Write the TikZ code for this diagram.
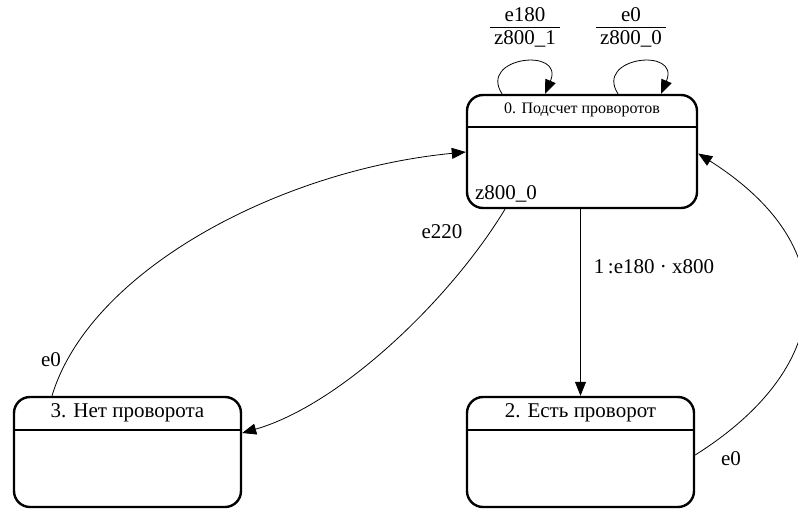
\documentclass[tikz,border=0pt]{standalone}
\usepackage{fontspec}
\setmainfont{Liberation Serif}
\usetikzlibrary{arrows.meta}
\begin{document}
\begin{tikzpicture}[x=1pt,y=-1pt,
  statebox/.style={draw,line width=2.4pt,rounded corners=16pt,inner sep=0pt},
  hdr/.style={font=\fontsize{21}{24}\selectfont,inner sep=0pt},
  lbl/.style={font=\fontsize{21}{24}\selectfont,inner sep=0pt},
  edge/.style={line width=0.8pt,-{Triangle[length=14pt,width=11pt]}}]
\useasboundingbox (0,0) rectangle (798,509);
% states
\node[statebox,minimum width=230pt,minimum height=113pt] (s0) at (582,151.5) {};
\node[statebox,minimum width=227pt,minimum height=110pt] (s3) at (127.5,452) {};
\node[statebox,minimum width=227pt,minimum height=110pt] (s2) at (580.5,452) {};
% header lines
\draw[line width=2.4pt] ([yshift=-33pt]s0.north west) -- ([yshift=-33pt]s0.north east);
\draw[line width=2.4pt] ([yshift=-34pt]s3.north west) -- ([yshift=-34pt]s3.north east);
\draw[line width=2.4pt] ([yshift=-34pt]s2.north west) -- ([yshift=-34pt]s2.north east);
% header texts
\node[hdr,font=\fontsize{16}{19}\selectfont] (h0) at ([yshift=-16.5pt]s0.north) {0. Подсчет проворотов};
\node[hdr] (h3) at ([yshift=-17pt]s3.north) {3. Нет проворота};
\node[hdr] (h2) at ([yshift=-17pt]s2.north) {2. Есть проворот};
\node[lbl,anchor=base west] (a0) at ([xshift=9pt,yshift=10pt]s0.south west) {z800\_0};
% self loops
\draw[edge] ([xshift=-80pt]s0.north) .. controls +(-24,-37) and +(20,-47) .. ([xshift=-37pt]s0.north);
\draw[edge] ([xshift=36pt]s0.north) .. controls +(-24,-37) and +(20,-47) .. ([xshift=79pt]s0.north);
\node[lbl] (l1) at (525,28) {\begin{tabular}{@{\hspace{4pt}}c@{\hspace{4pt}}}e180\\[-2pt]\hline z800\_1\end{tabular}};
\node[lbl] (l2) at (631,28) {\begin{tabular}{@{\hspace{4pt}}c@{\hspace{4pt}}}e0\\[-2pt]\hline z800\_0\end{tabular}};
% transitions
\draw[edge] (s2.north |- s0.south) -- (s2.north);
\node[lbl] (t02) at (654,267) {1\,:e180 · x800};
\draw[edge] ([xshift=-77pt]s0.south) .. controls (450,300) and (340,405) .. ([yshift=19pt]s3.east);
\node[lbl] (t03) at (442,232) {e220};
\draw[edge] ([xshift=-75.5pt]s3.north) .. controls (90,270) and (280,170) .. ([yshift=-0.5pt]s0.west);
\node[lbl] (t30) at (51,360) {e0};
\draw[edge] ([yshift=-3pt]s2.east) .. controls (830,370) and (850,250) .. ([yshift=-2pt]s0.east);
\node[lbl] (t20) at (731,459) {e0};
\end{tikzpicture}
\end{document}
